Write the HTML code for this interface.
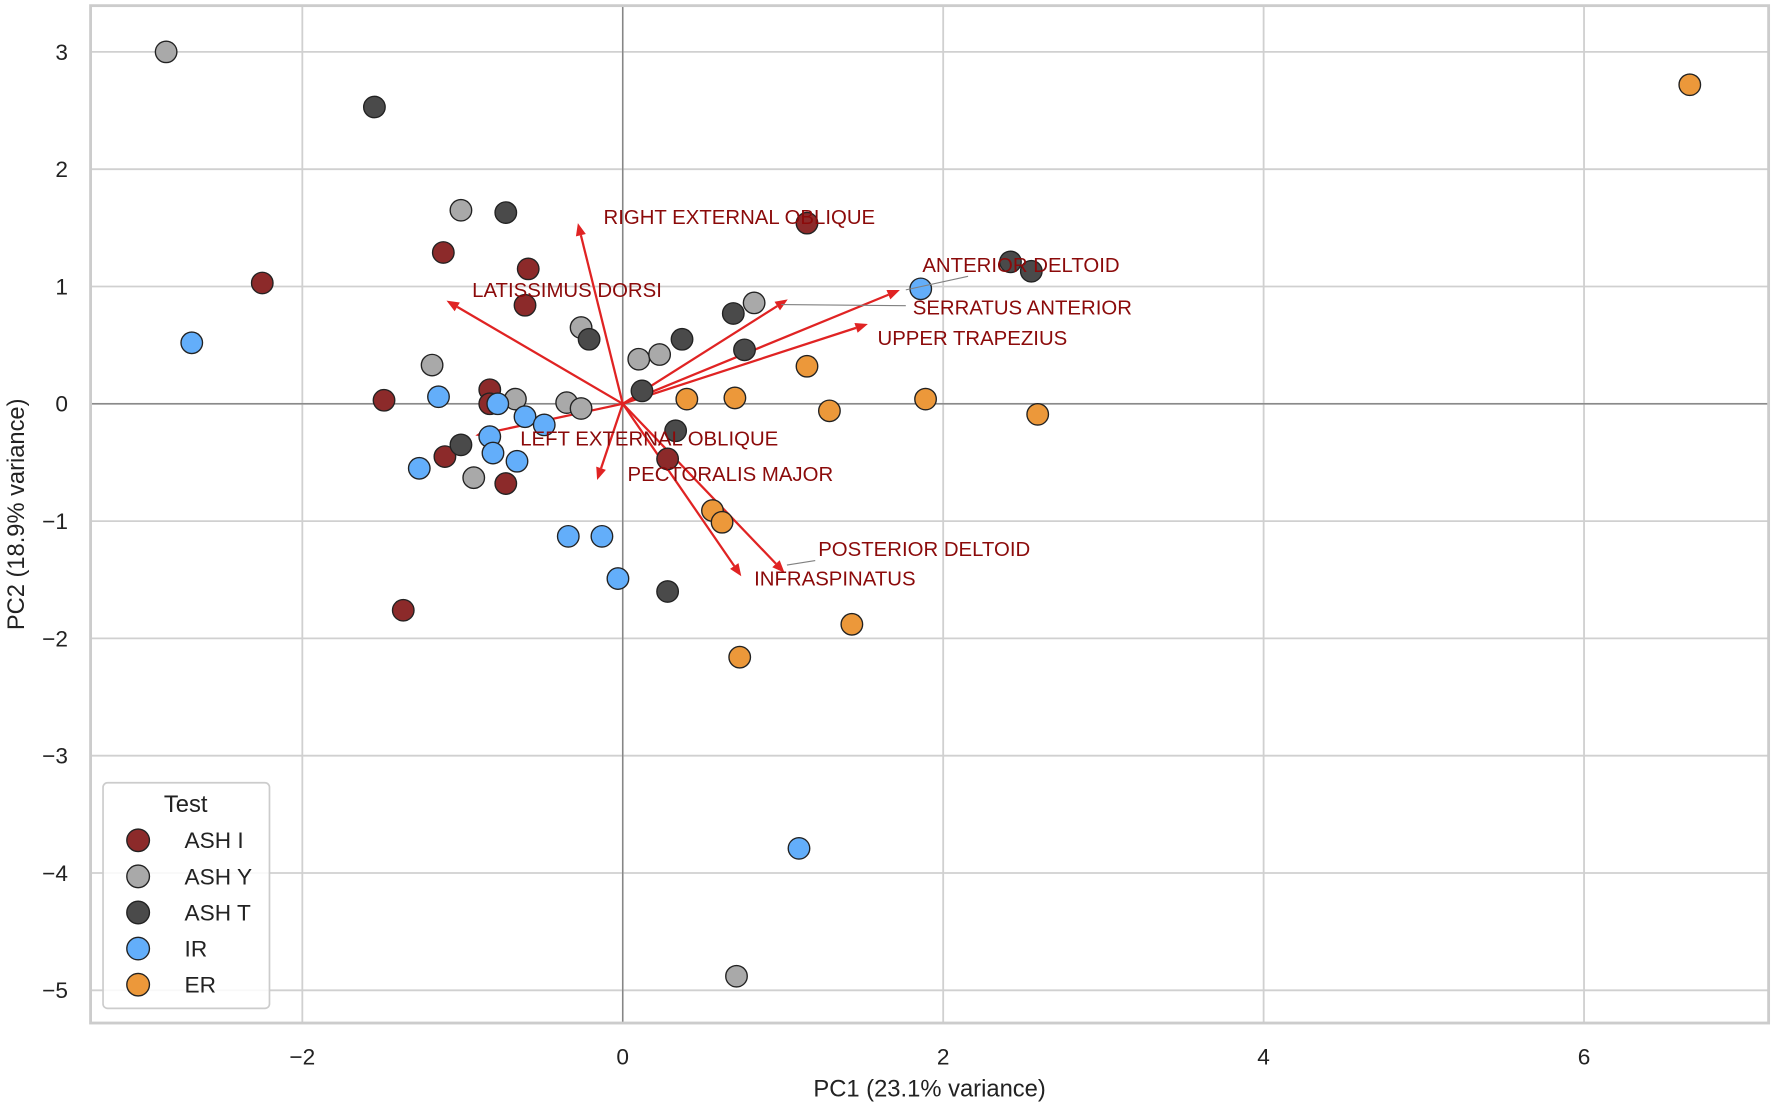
<!DOCTYPE html>
<html><head><meta charset="utf-8"><style>
html,body{margin:0;padding:0;background:#fff;}
svg{display:block;font-family:"Liberation Sans",sans-serif;}
</style></head><body>
<svg id="chart" width="1772" height="1111" viewBox="0 0 1565 985" preserveAspectRatio="none" xmlns="http://www.w3.org/2000/svg">
<g id="grid"></g>
<g id="ticks"></g>
<g id="arrows"></g>
<g id="points"></g>
<g id="labels"></g>
<rect x="80" y="5" width="1482" height="902" fill="none" stroke="#ccc" stroke-width="2.5"/>
<text x="821" y="972" font-size="21" fill="#222" text-anchor="middle">PC1 (23.1% variance)</text>
<text transform="translate(21,456) rotate(-90)" font-size="21" fill="#222" text-anchor="middle">PC2 (18.9% variance)</text>
<g id="legend"></g>
</svg>
<script>
const xTicks=[-2,0,2,4,6];
const yTicks=[3,2,1,0,-1,-2,-3,-4,-5];
const groupNames=["ASH I","ASH Y","ASH T","IR","ER"];
const groupColors=["#8c2a2a","#a9a9a9","#4a4a4a","#63aefa","#ec983a"];
const ashIx=[-2.25,-1.12,-0.59,-0.61,-1.49,-0.83,-0.83,-1.11,-0.73,-1.37,0.28,1.15];
const ashIy=[1.03,1.29,1.15,0.84,0.03,0.12,0.0,-0.45,-0.68,-1.76,-0.47,1.54];
const ashYx=[-2.85,-1.01,-1.19,-0.26,-0.67,-0.35,-0.26,0.10,0.23,0.82,-0.93,0.71];
const ashYy=[3.0,1.65,0.33,0.65,0.04,0.01,-0.04,0.38,0.42,0.86,-0.63,-4.88];
const ashTx=[-1.55,-0.73,-0.21,0.37,0.69,0.76,0.12,0.33,-1.01,0.28,2.42,2.55];
const ashTy=[2.53,1.63,0.55,0.55,0.77,0.46,0.11,-0.23,-0.35,-1.60,1.21,1.13];
const irX=[-2.69,-1.15,-0.78,-0.61,-0.49,-0.83,-0.81,-0.66,-1.27,-0.34,-0.13,-0.03,1.86,1.10];
const irY=[0.52,0.06,0.0,-0.11,-0.18,-0.28,-0.42,-0.49,-0.55,-1.13,-1.13,-1.49,0.98,-3.79];
const erX=[6.66,1.15,0.40,0.70,1.29,1.89,2.59,0.56,0.62,1.43,0.73];
const erY=[2.72,0.32,0.04,0.05,-0.06,0.04,-0.09,-0.91,-1.01,-1.88,-2.16];
const loadNames=["RIGHT EXTERNAL OBLIQUE","LATISSIMUS DORSI","ANTERIOR DELTOID","SERRATUS ANTERIOR","UPPER TRAPEZIUS","LEFT EXTERNAL OBLIQUE","PECTORALIS MAJOR","POSTERIOR DELTOID","INFRASPINATUS"];
const loadX=[-0.28,-1.10,1.73,1.03,1.53,-0.92,-0.16,1.01,0.74];
const loadY=[1.54,0.88,0.97,0.89,0.68,-0.27,-0.65,-1.44,-1.47];
const labelX=[-0.12,-0.94,1.87,1.81,1.59,-0.64,0.03,1.22,0.82];
const labelY=[1.59,0.97,1.18,0.82,0.56,-0.30,-0.60,-1.24,-1.49];

const NS="http://www.w3.org/2000/svg";
function sx(v){return 550+v*141.5;}
function sy(v){return 358-v*104;}
function mk(tag,attrs,parent){const e=document.createElementNS(NS,tag);for(const k in attrs)e.setAttribute(k,attrs[k]);parent.appendChild(e);return e;}
const grid=document.getElementById('grid'),ticks=document.getElementById('ticks');
xTicks.forEach(t=>{
  const l=mk('line',{x1:sx(t),x2:sx(t),y1:5,y2:907,stroke:'#d0d0d0','stroke-width':1.6},grid);
  
  
  const tx=mk('text',{x:sx(t),y:944,'font-size':20,fill:'#222','text-anchor':'middle'},ticks);
  tx.textContent=(t<0?'\u2212'+(-t):t);
  
  
});
yTicks.forEach(t=>{
  const l=mk('line',{x1:80,x2:1562,y1:sy(t),y2:sy(t),stroke:'#d0d0d0','stroke-width':1.6},grid);
  
  
  const tx=mk('text',{x:60,y:sy(t)+7,'font-size':20,fill:'#222','text-anchor':'end'},ticks);
  tx.textContent=(t<0?'\u2212'+(-t):t);
  
  
});
let z=mk('line',{x1:sx(0),x2:sx(0),y1:5,y2:907,stroke:'#808080','stroke-width':1.2},grid);


z=mk('line',{x1:80,x2:1562,y1:sy(0),y2:sy(0),stroke:'#808080','stroke-width':1.2},grid);



const pts=document.getElementById('points');
const gx=[ashIx,ashYx,ashTx,irX,erX],gy=[ashIy,ashYy,ashTy,irY,erY];
gx.forEach((xs,g)=>{xs.forEach((v,i)=>{
  const c=mk('circle',{cx:sx(v),cy:sy(gy[g][i]),r:9.5,fill:groupColors[g],stroke:'#222','stroke-width':1.2},pts);
  
  
});});

const arr=document.getElementById('arrows'),labs=document.getElementById('labels');
loadNames.forEach((n,i)=>{
  const x0=sx(0),y0=sy(0),x1=sx(loadX[i]),y1=sy(loadY[i]);
  const dx=x1-x0,dy=y1-y0,L=Math.hypot(dx,dy),ux=dx/L,uy=dy/L;
  const bx=x1-ux*11,by=y1-uy*11;
  const l=mk('line',{x1:x0,y1:y0,x2:bx,y2:by,stroke:'#e02323','stroke-width':2},arr);
  
  
  const h=mk('polygon',{points:`${x1},${y1} ${bx-uy*4.5},${by+ux*4.5} ${bx+uy*4.5},${by-ux*4.5}`,fill:'#e02323'},arr);
  
  
  const t=mk('text',{x:sx(labelX[i]),y:sy(labelY[i])+6,'font-size':18,fill:'#8b0a0a'},labs);
  t.textContent=n;
  
  
});
[[855,245,800,257],[800,271,690,270],[720,497,695,501]].forEach(a=>{
  const l=mk('line',{x1:a[0],y1:a[1],x2:a[2],y2:a[3],stroke:'#808080','stroke-width':1},labs);
  
  
});

const lg=document.getElementById('legend');
const box=mk('rect',{x:91,y:694,width:147,height:200,rx:4,fill:'#fff','fill-opacity':0.85,stroke:'#ccc','stroke-width':1.5},lg);


const tt=mk('text',{x:164,y:720,'font-size':21,fill:'#222','text-anchor':'middle'},lg);
tt.textContent='Test';


groupNames.forEach((n,i)=>{
  const y=745+i*32;
  const c=mk('circle',{cx:122,cy:y,r:10,fill:groupColors[i],stroke:'#222','stroke-width':1.2},lg);
  
  
  const t=mk('text',{x:163,y:y+7,'font-size':20,fill:'#222'},lg);
  t.textContent=n;
  
  
});
</script>
</body></html>
